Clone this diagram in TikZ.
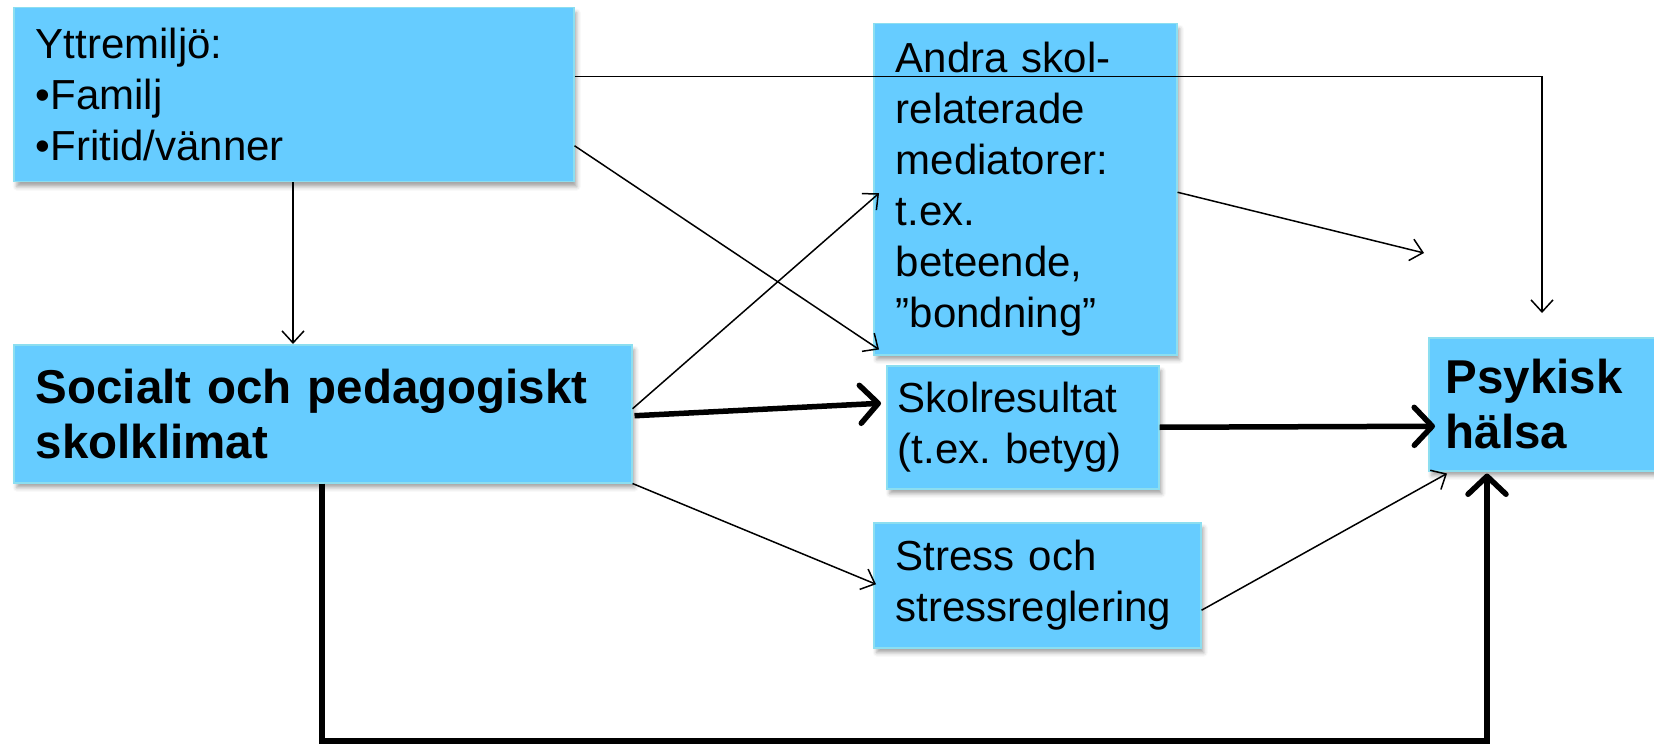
\documentclass[tikz,border=0pt]{standalone}
\usepackage{fontspec}
\setmainfont{Liberation Sans}
\usetikzlibrary{arrows.meta,calc,shadows.blur}
\definecolor{boxfill}{RGB}{102,204,255}
\definecolor{boxline}{RGB}{140,222,240}
\frenchspacing
\begin{document}
\begin{tikzpicture}[x=1pt,y=-1pt,
  box/.style={fill=boxfill, draw=boxline, line width=1.5pt, anchor=north west, align=left,
    inner ysep=0pt, inner xsep=22pt,
    blur shadow={shadow xshift=3pt, shadow yshift=-5pt, shadow opacity=35, shadow blur radius=4pt},
    font=\fontsize{42pt}{51pt}\selectfont\frenchspacing},
  boldbox/.style={box, font=\fontsize{47.5pt}{55pt}\selectfont\bfseries},
  thinarrow/.style={line width=1.5pt, -{Straight Barb[length=12pt,width=22pt]}},
  thickarrow/.style={line width=5.5pt, -{Straight Barb[length=18pt,width=38pt,round]}},
]
\useasboundingbox (0,0) rectangle (1654,746);

\node[box, minimum width=560pt, minimum height=174pt, text width=516pt] (A) at (13,7)
  {Yttremiljö:\\•Familj\\•Fritid/vänner};
\node[box, minimum width=303pt, minimum height=331pt, text width=259pt] (B) at (873,23)
  {Andra skol-\\relaterade\\mediatorer:\\t.ex.\\beteende,\\”bondning”};
\node[boldbox, minimum width=618pt, minimum height=138pt, text width=574pt] (C) at (13,344)
  {Socialt och pedagogiskt\\skolklimat};
\node[box, minimum width=272pt, minimum height=123pt, text width=250pt, inner xsep=11pt] (D) at (886,365)
  {Skolresultat\\(t.ex. betyg)};
\node[box, minimum width=327pt, minimum height=125pt, text width=283pt] (E) at (873,522)
  {Stress och\\stressreglering};
\node[boldbox, minimum width=226pt, minimum height=133pt, text width=192pt, inner xsep=17pt] (F) at (1428,337)
  {Psykisk\\hälsa};

\coordinate (e1) at (1542,313);
\coordinate (e7) at (1424,253);
\coordinate (b1) at (322,741);
\coordinate (b2) at (1487,741);

\draw[thinarrow] ($(A.east)+(0,-18)$) -| (e1);
\draw[thinarrow] ($(A.east)+(0,51)$) -- ($(B.south west)+(6,-6)$);
\draw[thinarrow] ($(A.south west)+(280,0)$) -- ($(C.north west)+(280,0)$);
\draw[thinarrow] ($(C.east)+(0,-5)$) -- ($(B.west)+(6,4)$);
\draw[thickarrow] ($(C.east)+(2,2)$) -- ($(D.west)+(-5,-24)$);
\draw[thinarrow] (C.south east) -- ($(E.west)+(3,-1)$);
\draw[thinarrow] ($(B.east)+(0,3)$) -- (e7);
\draw[thickarrow] (D.east) -- ($(F.west)+(7,22)$);
\draw[thinarrow] ($(E.east)+(0,25)$) -- ($(F.south west)+(19,2)$);
\draw[thickarrow] ($(C.south west)+(309,0)$) -- (b1) -- (b2) -- ($(F.south west)+(59,2)$);
\end{tikzpicture}
\end{document}
